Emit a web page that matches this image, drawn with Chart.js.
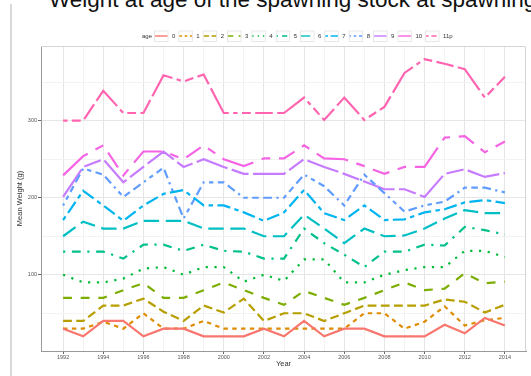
<!DOCTYPE html>
<html lang="en">
<head>
<meta charset="UTF-8">
<title>Weight at age of the spawning stock at spawning</title>
<script src="https://cdn.jsdelivr.net/npm/chart.js"></script>
<style>
  html, body { margin: 0; padding: 0; background: #fff; overflow: hidden; }
  #wrap { position: relative; width: 531px; height: 376px; overflow: hidden; }
  #frame { position: absolute; left: 10px; top: 4px; height: 380px; border-left: 2px solid #d8d8d8; }
  #title { position: absolute; left: 49px; top: -11px; font-family: "Liberation Sans", Arial, sans-serif; font-size: 22.5px; line-height: 1; color: #111; white-space: nowrap; }
  canvas { position: absolute; left: 0; top: 0; }
</style>
</head>
<body>
<div id="wrap">
  <div id="frame"></div>
  <div id="title">Weight at age of the spawning stock at spawning</div>
  <canvas id="chart" width="531" height="376"></canvas>
</div>
<script>
// data (mean weight in g)
const years = [1992, 1993, 1994, 1995, 1996, 1997, 1998, 1999, 2000, 2001, 2002, 2003,
               2004, 2005, 2006, 2007, 2008, 2009, 2010, 2011, 2012, 2013, 2014];
const ageLabels = ['0', '1', '2', '3', '4', '5', '6', '7', '8', '9', '10', '11p'];

const age0   = [30, 20, 40, 40, 20, 30, 30, 20, 20, 20, 30, 20, 40, 20, 30, 30, 20, 20, 20, 35, 24, 44, 34];
const age1   = [30, 30, 39, 30, 50, 30, 30, 40, 30, 30, 30, 30, 30, 30, 30, 50, 50, 30, 39, 59, 34, 41, 44];
const age2   = [40, 40, 60, 60, 69, 52, 40, 60, 51, 69, 40, 50, 50, 40, 50, 60, 60, 60, 60, 68, 65, 51, 61];
const age3   = [70, 70, 70, 80, 89, 70, 70, 80, 90, 80, 70, 61, 79, 70, 61, 70, 80, 90, 80, 82, 102, 89, 91];
const age4   = [100, 90, 90, 95, 108, 110, 100, 110, 110, 91, 100, 92, 120, 120, 90, 90, 100, 106, 110, 110, 131, 131, 123];
const age5   = [130, 130, 130, 121, 139, 139, 131, 139, 131, 130, 121, 121, 160, 141, 126, 110, 130, 130, 139, 138, 162, 158, 152];
const age6   = [150, 169, 160, 160, 170, 170, 170, 160, 160, 160, 150, 150, 178, 160, 141, 160, 150, 151, 160, 173, 184, 180, 180];
const age7   = [171, 209, 190, 170, 190, 205, 210, 190, 190, 181, 170, 181, 210, 180, 171, 190, 171, 172, 181, 185, 194, 197, 193];
const age8   = [190, 238, 230, 201, 220, 239, 173, 220, 220, 200, 200, 200, 230, 215, 190, 230, 206, 182, 190, 195, 213, 213, 207];
const age9   = [201, 240, 250, 220, 240, 260, 240, 250, 240, 231, 231, 231, 250, 240, 231, 221, 211, 211, 201, 231, 237, 227, 232];
const age10  = [229, 254, 268, 229, 260, 260, 250, 268, 250, 241, 251, 251, 268, 251, 250, 241, 231, 240, 240, 278, 280, 259, 273];
const age11p = [300, 300, 339, 310, 310, 359, 351, 360, 310, 310, 310, 310, 330, 301, 330, 301, 318, 362, 380, 374, 367, 330, 357];

const yTickLabels = [100, 200, 300];
const yMinorTicks = [50, 150, 250, 350];

// ggplot-like hue colours and linetypes
const ageColors = ['#F8766D', '#DE8C00', '#B79F00', '#7CAE00', '#00BA38', '#00C08B',
                   '#00BFC4', '#00B4F0', '#619CFF', '#C77CFF', '#F564E3', '#FF64B0'];
const ageDash = [[], [2, 2], [4, 2], [4, 4], [1, 3], [1, 3, 4, 3], [7, 3], [2, 2, 6, 2],
                 [1, 2, 2, 2, 3, 2, 4, 2], [15, 2, 8, 2], [15, 4, 4, 4, 8, 4, 4, 4], [2, 2, 4, 2, 8, 2, 15, 2]];
const lw = 2.2;

const series = [age0, age1, age2, age3, age4, age5, age6, age7, age8, age9, age10, age11p];

const datasets = series.map((vals, i) => ({
    label: ageLabels[i],
    data: vals.map((v, j) => ({ x: years[j], y: v })),
    borderColor: ageColors[i],
    backgroundColor: ageColors[i],
    borderWidth: lw,
    borderDash: ageDash[i].map(d => d * lw),
    pointRadius: 0,
    tension: 0,
    fill: false
}));

// top/right panel border
const panelBorder = {
    id: 'panelBorder',
    beforeDatasetsDraw(chart) {
        const { ctx, chartArea: a } = chart;
        ctx.save();
        ctx.strokeStyle = '#d4d4d4';
        ctx.lineWidth = 1;
        ctx.beginPath();
        ctx.moveTo(a.left, a.top + 0.5);
        ctx.lineTo(a.right - 0.5, a.top + 0.5);
        ctx.lineTo(a.right - 0.5, a.bottom);
        ctx.stroke();
        ctx.restore();
    }
};

// one-row legend with "age" heading and boxed keys
const ageLegend = {
    id: 'ageLegend',
    afterDraw(chart) {
        const ctx = chart.ctx;
        const y = 36;
        ctx.save();
        ctx.font = '6px "Liberation Sans", Arial, sans-serif';
        ctx.textBaseline = 'middle';
        ctx.fillStyle = '#333';
        let x = 142;
        ctx.fillText('age', x, y);
        x += ctx.measureText('age').width + 2;
        chart.data.datasets.forEach(ds => {
            ctx.setLineDash([]);
            ctx.fillStyle = '#fff';
            ctx.strokeStyle = '#e2e2e2';
            ctx.lineWidth = 0.8;
            ctx.fillRect(x, y - 5.5, 14, 11);
            ctx.strokeRect(x + 0.5, y - 5, 13.5, 10.5);
            ctx.strokeStyle = ds.borderColor;
            ctx.lineWidth = 1.4;
            ctx.setLineDash(ds.borderDash.map(d => d * 0.6));
            ctx.beginPath();
            ctx.moveTo(x + 1, y);
            ctx.lineTo(x + 13.5, y);
            ctx.stroke();
            ctx.setLineDash([]);
            ctx.fillStyle = '#333';
            ctx.fillText(ds.label, x + 18, y);
            x += 18 + ctx.measureText(ds.label).width + 3;
        });
        ctx.restore();
    }
};

const tickFont = { family: '"Liberation Sans", Arial, sans-serif', size: 5.5 };
const titleFont = { family: '"Liberation Sans", Arial, sans-serif', size: 7.5 };

new Chart(document.getElementById('chart'), {
    type: 'line',
    data: { datasets: datasets },
    options: {
        responsive: false,
        animation: false,
        layout: { padding: { top: 46, right: 5, left: 0, bottom: 0 } },
        plugins: {
            legend: { display: false },
            tooltip: { enabled: false }
        },
        scales: {
            x: {
                type: 'linear',
                min: 1990.9,
                max: 2015.05,
                afterBuildTicks: s => { s.ticks = years.map(v => ({ value: v })); },
                afterFit: s => { s.height = 25; },
                ticks: {
                    autoSkip: false,
                    maxRotation: 0,
                    padding: 0,
                    font: tickFont,
                    color: '#555',
                    callback: v => (v % 2 === 0 ? String(v) : '')
                },
                grid: {
                    color: c => (c.tick && c.tick.value % 2 === 0 ? '#e6e6e6' : '#f3f3f3'),
                    tickColor: c => (c.tick && c.tick.value % 2 === 0 ? '#666' : 'rgba(0,0,0,0)'),
                    tickLength: 3,
                    lineWidth: 1
                },
                border: { color: '#999', width: 1 },
                title: { display: true, text: 'Year', font: titleFont, color: '#333', padding: { top: 0, bottom: 8 } }
            },
            y: {
                min: 1,
                max: 397,
                afterBuildTicks: s => {
                    s.ticks = yMinorTicks.concat(yTickLabels).sort((a, b) => a - b).map(v => ({ value: v }));
                },
                afterFit: s => { s.width = 41; },
                ticks: {
                    padding: 1,
                    font: tickFont,
                    color: '#555',
                    callback: v => (yTickLabels.includes(v) ? String(v) : '')
                },
                grid: {
                    color: c => (c.tick && yTickLabels.includes(c.tick.value) ? '#e6e6e6' : '#f3f3f3'),
                    tickColor: c => (c.tick && yTickLabels.includes(c.tick.value) ? '#666' : 'rgba(0,0,0,0)'),
                    tickLength: 3,
                    lineWidth: 1
                },
                border: { color: '#999', width: 1 },
                title: { display: true, text: 'Mean Weight (g)', font: titleFont, color: '#333', padding: { top: 15, bottom: 0 } }
            }
        }
    },
    plugins: [panelBorder, ageLegend]
});
</script>
</body>
</html>
